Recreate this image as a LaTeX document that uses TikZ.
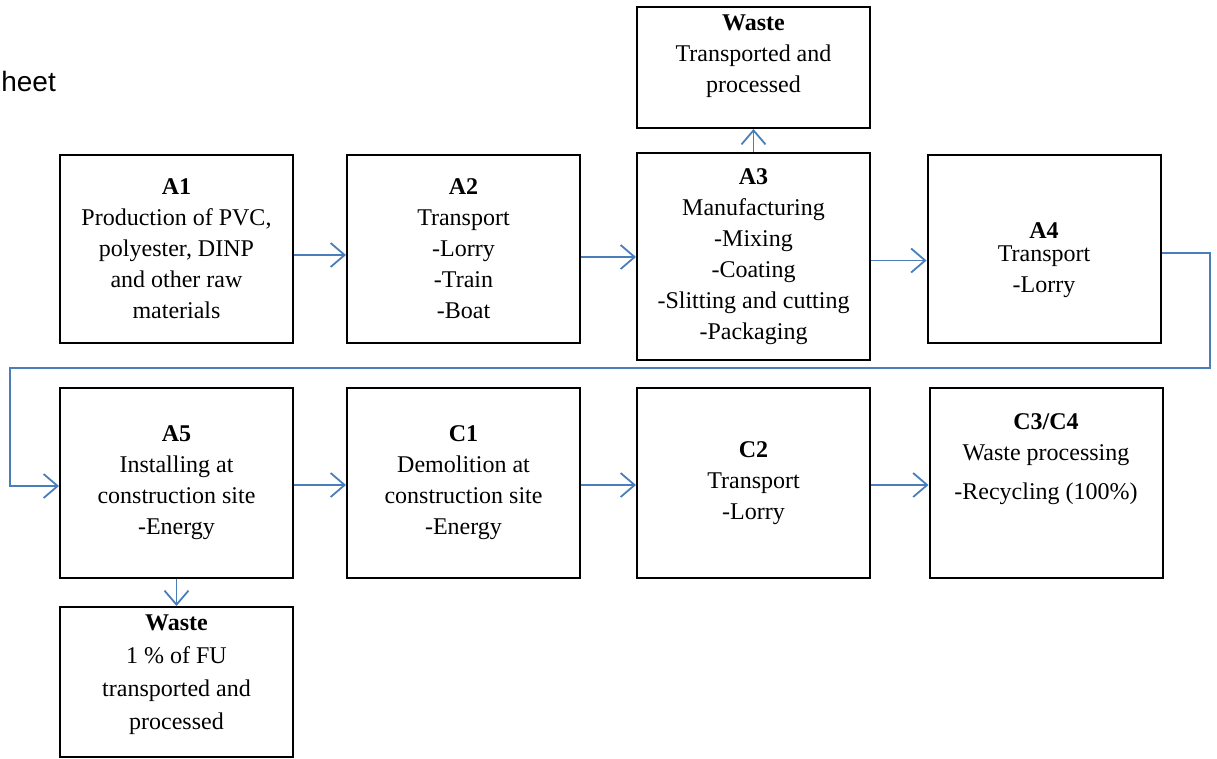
\documentclass[tikz,border=0pt]{standalone}
\usepackage{fontspec}
\setmainfont{Liberation Serif}
\newfontfamily\sheetfont{Liberation Sans}
\usetikzlibrary{positioning,arrows.meta}
\definecolor{flowblue}{RGB}{74,126,187}
\tikzset{
  proc/.style={draw=black, line width=2pt, minimum width=233pt, align=center,
    font=\fontsize{24}{31}\selectfont, inner sep=0pt},
  proctext/.style={align=center, font=\fontsize{24}{31}\selectfont, inner sep=0pt},
  flow/.style={draw=flowblue, line width=1.8pt,
    -{Straight Barb[length=14pt,width=24pt,line width=1.8pt]}},
}

\begin{document}
\begin{tikzpicture}[x=1pt,y=-1pt]
    \useasboundingbox (0,0) rectangle (1217,758);

    \node[anchor=base east, inner sep=0pt, font=\sheetfont\fontsize{28}{28}\selectfont] (sheet) at (56,91) {heet};

    % first row
    \node[proc, minimum height=188pt] (a1) at (176.5,249) {\textbf{A1}\\Production of PVC,\\polyester, DINP\\and other raw\\materials};
    \node[proc, minimum height=188pt] (a2) at (463.5,249) {\textbf{A2}\\Transport\\-Lorry\\-Train\\-Boat};
    \node[proc, minimum height=207pt] (a3) at (753.5,256.5) {\textbf{A3}\\Manufacturing\\-Mixing\\-Coating\\-Slitting and cutting\\-Packaging};
    \node[proc, minimum height=188pt] (a4) at (1044,249) {};
    \node[proctext, anchor=north] (a4txt) at ([yshift=-68pt]a4.north) {\textbf{A4}\\[-8pt]Transport\\-Lorry};

    \node[proc, minimum height=121pt] (wtop) at (753.5,67.5) {};
    \node[proctext, anchor=north] (wtoptxt) at ([yshift=-9pt]wtop.north) {\textbf{Waste}\\Transported and\\processed};

    % second row
    \node[proc, minimum height=190pt] (a5) at (176.5,483) {\textbf{A5}\\Installing at\\construction site\\-Energy};
    \node[proc, minimum height=190pt] (c1) at (463.5,483) {\textbf{C1}\\Demolition at\\construction site\\-Energy};
    \node[proc, minimum height=190pt] (c2) at (753.5,483) {\textbf{C2}\\Transport\\-Lorry};
    \node[proc, minimum height=190pt] (c34) at (1046,483) {};
    \node[proctext, anchor=north] (c34txt) at ([yshift=-26pt]c34.north) {\textbf{C3/C4}\\Waste processing\\[8pt]-Recycling (100\%)};

    \node[proc, minimum height=150pt] (wbot) at (176.5,682) {};
    \node[proctext, anchor=north] (wbottxt) at ([yshift=-9pt]wbot.north) {\textbf{Waste}\\[2pt]1 \% of FU\\[2pt]transported and\\[2pt]processed};

    \coordinate (wrapR) at (1210,368);
    \coordinate (wrapL) at (10,368);

    \draw[flow] ([yshift=-6pt]a1.east) -- ([yshift=-6pt]a1.east -| a2.west);
    \draw[flow] ([yshift=-8pt]a2.east) -- ([yshift=-8pt]a2.east -| a3.west);
    \draw[flow] ([yshift=-4pt]a3.east) -- ([yshift=-4pt]a3.east -| a4.west);
    \draw[flow] ([yshift=-4pt]a4.east) -| (wrapR) -- (wrapL) |- ([yshift=-3pt]a5.west);
    \draw[flow] (a3.north) -- (wtop.south);

    \draw[flow] ([yshift=-2pt]a5.east) -- ([yshift=-2pt]a5.east -| c1.west);
    \draw[flow] ([yshift=-2pt]c1.east) -- ([yshift=-2pt]c1.east -| c2.west);
    \draw[flow] ([yshift=-2pt]c2.east) -- ([yshift=-2pt]c2.east -| c34.west);
    \draw[flow] (a5.south) -- (wbot.north);

\end{tikzpicture}
\end{document}
